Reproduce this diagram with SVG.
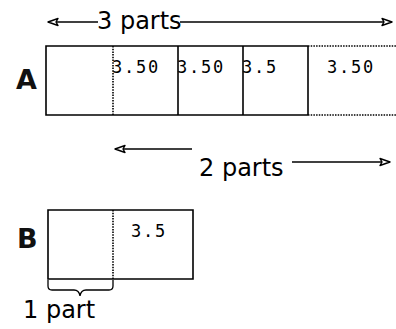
<svg xmlns="http://www.w3.org/2000/svg" width="396" height="329" viewBox="0 0 396 329">
  <style>
    .box { fill: none; stroke: #000; stroke-width: 1.6; }
    .dot { fill: none; stroke: #000; stroke-width: 1.6; stroke-dasharray: 1.5 1.2; }
    .line { fill: none; stroke: #000; stroke-width: 1.3; }
    .num { font-family: "DejaVu Sans Mono", "Liberation Mono", monospace; font-size: 17px; letter-spacing: 1.8px; fill: #000; }
    .lbl { font-family: "DejaVu Sans", "Liberation Sans", sans-serif; font-size: 24px; fill: #000; }
    .big { font-family: "DejaVu Sans", "Liberation Sans", sans-serif; font-size: 27px; font-weight: bold; fill: #111; }
  </style>
  <defs>
    <marker id="head" viewBox="0 0 12 10" refX="11" refY="5" markerWidth="12" markerHeight="10" markerUnits="userSpaceOnUse" orient="auto-start-reverse">
      <path d="M1,1.5 L11,5 L1,8.5 L3,5 Z" fill="#fff" stroke="#000" stroke-width="1.4" stroke-linejoin="round"/>
    </marker>
  </defs>

  <rect width="396" height="329" fill="#fff"/>

  <!-- width arrows -->
  <g id="connectors">
    <path class="line" d="M48,22 H98" marker-start="url(#head)"/>
    <path class="line" d="M180,22 H392" marker-end="url(#head)"/>
    <path class="line" d="M115,149 H192" marker-start="url(#head)"/>
    <path class="line" d="M292,162 H390" marker-end="url(#head)"/>
  </g>

  <g id="label-3parts">
    <text class="lbl" x="97" y="29" font-size="23">3 parts</text>
  </g>
  <g id="label-2parts">
    <text class="lbl" x="199" y="176">2 parts</text>
  </g>

  <!-- bar A -->
  <g id="bar-a">
    <text class="big" x="16" y="89">A</text>
    <path class="box" d="M308,46 H46 V115 H308"/>
    <path class="dot" d="M113,46 V115"/>
    <path class="box" d="M178,46 V115"/>
    <path class="box" d="M243,46 V115"/>
    <path class="box" d="M308,46 V115"/>
    <path class="dot" d="M308,46 H396 M308,115 H396"/>
    <text class="num" x="112" y="73">3.50</text>
    <text class="num" x="177" y="73">3.50</text>
    <text class="num" x="242" y="73">3.5</text>
    <text class="num" x="327" y="73">3.50</text>
  </g>

  <!-- bar B -->
  <g id="bar-b">
    <text class="big" x="17" y="248">B</text>
    <path class="box" d="M48,210 H193 V279 H48 Z"/>
    <path class="dot" d="M113,210 V279"/>
    <text class="num" x="131" y="237">3.5</text>
  </g>

  <!-- brace under the first part of B -->
  <g id="brace-1part">
    <path class="line" stroke-width="1.6" d="M48,280 V286 Q48,290 52,290 H74 Q79,290 80,296 Q81,290 86,290 H109 Q113,290 113,286 V280"/>
    <text class="lbl" x="23" y="318" font-size="25">1 part</text>
  </g>
</svg>
